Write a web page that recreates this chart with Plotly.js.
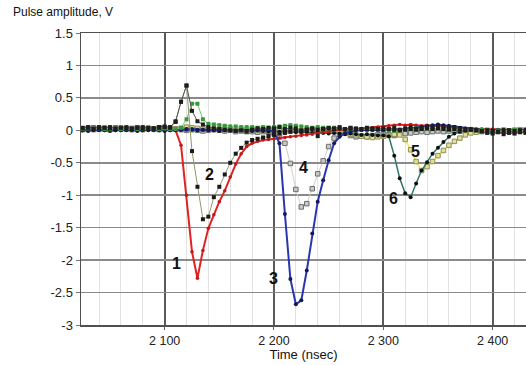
<!DOCTYPE html>
<html>
<head>
<meta charset="utf-8">
<script src="https://cdn.plot.ly/plotly-3.0.1.min.js"></script>
<style>html,body{margin:0;padding:0;background:#fff;}#chart{width:526px;height:365px;}</style>
</head>
<body>
<div id="chart"></div>
<script>
// time samples (nsec)
const time = [2025,2030,2035,2040,2045,2050,2055,2060,2065,2070,2075,2080,2085,2090,2095,2100,2105,
  2110,2115,2120,2125,2130,2135,2140,2145,2150,2155,2160,2165,2170,2175,
  2180,2185,2190,2195,2200,2205,2210,2215,2220,2225,2230,2235,2240,2245,2250,2255,2260,2265,2270,2275,2280,2285,2290,2295,
  2300,2305,2310,2315,2320,2325,2330,2335,2340,2345,2350,2355,2360,2365,2370,2375,2380,2385,2390,2395,2400,2405,2410,2415,2420,2425,2430];

// crosstalk channel (black squares)
const seriesBlack = [0.04,0.05,0.03,0.05,0.04,0.05,0.03,0.04,0.05,0.03,0.04,0.05,0.04,0.03,0.05,0.06,0.05,
  0.14,0.44,0.69,0.30,0.14,0.09,0.05,0.03,0.02,0.01,0.00,-0.01,0.00,-0.02,
  0.01,0.03,0.02,0.04,0.03,0.05,0.02,0.04,0.03,-0.02,0.01,0.03,-0.09,0.02,0.04,0.03,0.05,0.02,0.04,0.03,0.02,0.04,0.03,0.02,
  0.03,0.02,0.04,0.01,0.03,0.05,0.02,0.04,0.06,0.05,0.07,0.06,0.04,0.05,0.03,0.02,0.01,0.00,-0.02,-0.04,-0.05,-0.03,-0.06,-0.04,-0.05,-0.03,-0.04];

// crosstalk channel (green squares)
const seriesGreen = [0.02,0.03,0.02,0.03,0.02,0.02,0.03,0.02,0.03,0.02,0.02,0.03,0.02,0.03,0.02,0.03,0.02,
  0.02,0.04,0.17,0.41,0.41,0.17,0.10,0.09,0.08,0.07,0.06,0.06,0.05,0.05,
  0.05,0.04,0.05,0.04,0.05,0.06,0.07,0.08,0.07,0.06,0.05,0.04,0.05,0.04,0.03,0.04,0.03,0.02,0.03,0.02,0.02,0.01,0.02,0.01,
  0.01,0.00,-0.01,0.00,0.01,0.02,0.03,0.02,0.03,0.04,0.03,0.02,0.03,0.02,0.01,0.02,0.01,0.00,0.01,0.00,-0.01,0.00,-0.01,0.00,0.01,0.00,-0.01];

// pulse 1 (red)
const series1 = [0.01,0.00,0.01,0.02,0.01,0.00,0.01,0.02,0.01,0.01,0.00,0.01,0.02,0.01,0.01,0.02,0.01,
  0.00,-0.23,-1.00,-1.87,-2.28,-1.85,-1.51,-1.30,-1.10,-0.93,-0.72,-0.52,-0.36,-0.25,
  -0.20,-0.17,-0.15,-0.14,-0.13,-0.12,-0.11,-0.10,-0.09,-0.08,-0.07,-0.06,-0.05,-0.03,-0.02,0.00,0.01,0.02,0.02,0.03,0.03,0.04,0.04,0.05,
  0.06,0.07,0.08,0.09,0.08,0.09,0.08,0.07,0.08,0.07,0.06,0.05,0.05,0.04,0.04,0.03,0.03,0.02,0.02,0.01,0.02,0.01,0.00,0.01,0.00,0.01,0.00];

// pulse 2 (black dots, olive line)
const series2 = [0.03,0.04,0.02,0.03,0.04,0.03,0.02,0.04,0.03,0.02,0.04,0.03,0.02,0.03,0.04,0.05,0.04,
  0.13,0.44,0.69,-0.32,-0.87,-1.37,-1.33,-1.03,-0.87,-0.68,-0.50,-0.36,-0.27,-0.19,
  -0.15,-0.13,-0.11,-0.09,-0.07,-0.05,-0.04,-0.02,-0.01,0.00,0.01,0.02,0.01,0.02,0.03,0.02,0.03,0.02,0.03,0.02,0.01,0.02,0.01,0.02,
  0.01,0.02,0.01,0.00,0.01,0.02,0.01,0.02,0.03,0.02,0.03,0.02,0.01,0.02,0.01,0.00,0.01,0.00,-0.01,0.00,-0.01,-0.02,-0.01,0.00,-0.01,0.00,-0.01];

// pulse 3 (blue)
const series3 = [0.00,0.00,0.01,0.00,0.00,0.01,0.00,0.00,0.00,0.01,0.00,0.00,0.00,0.01,0.00,0.00,0.00,
  0.00,0.01,0.01,0.02,0.01,0.01,0.00,0.00,0.01,0.00,0.00,0.00,0.01,0.00,
  0.00,0.00,0.01,0.00,-0.02,-0.20,-1.29,-2.29,-2.68,-2.62,-2.16,-1.59,-1.10,-0.77,-0.46,-0.20,-0.10,-0.04,-0.02,0.00,0.01,0.00,0.01,0.00,
  0.00,0.01,0.00,0.01,0.02,0.03,0.04,0.05,0.06,0.08,0.09,0.08,0.07,0.05,0.04,0.03,0.02,0.01,0.01,0.00,0.00,0.01,0.00,0.00,0.01,0.00,0.00];

// pulse 4 (grey squares)
const series4 = [0.02,0.03,0.04,0.02,0.03,0.02,0.04,0.03,0.02,0.03,0.04,0.02,0.03,0.02,0.04,0.03,0.02,
  0.02,0.01,0.00,0.01,0.00,-0.01,0.00,0.01,0.00,-0.01,0.00,-0.02,-0.01,-0.02,
  -0.02,-0.03,-0.02,-0.03,-0.04,-0.10,-0.20,-0.51,-0.91,-1.18,-1.13,-0.90,-0.67,-0.47,-0.25,-0.12,-0.06,-0.04,-0.08,-0.10,-0.09,-0.10,-0.08,-0.07,
  -0.06,-0.07,-0.08,-0.06,-0.05,-0.04,-0.03,-0.02,-0.03,-0.02,-0.01,-0.02,-0.01,0.00,-0.01,0.00,0.01,0.00,-0.01,0.00,-0.02,-0.01,0.00,-0.01,-0.02,-0.01,0.00];

// pulse 5 (yellow line, olive squares)
const series5 = [0.01,0.02,0.01,0.03,0.02,0.01,0.02,0.03,0.02,0.01,0.02,0.01,0.03,0.02,0.01,0.02,0.03,
  0.02,0.03,0.05,0.04,0.03,0.02,0.01,0.02,0.01,0.02,0.01,0.00,0.01,0.00,
  0.01,0.00,0.01,0.00,-0.01,0.00,-0.02,-0.01,0.00,-0.01,0.00,0.01,0.00,-0.01,0.00,-0.02,-0.03,-0.04,-0.06,-0.07,-0.09,-0.10,-0.11,-0.10,
  -0.09,-0.08,-0.06,-0.07,-0.14,-0.30,-0.48,-0.62,-0.56,-0.48,-0.39,-0.31,-0.23,-0.17,-0.12,-0.07,-0.04,-0.03,-0.02,-0.01,-0.02,-0.01,0.00,-0.01,0.00,0.01,0.00];

// pulse 6 (teal line, black dots)
const series6 = [0.00,-0.01,0.00,0.01,0.00,-0.01,0.00,0.00,0.01,0.00,-0.01,0.00,0.01,0.00,0.00,-0.01,0.00,
  0.00,0.01,0.02,0.01,0.00,0.01,0.00,0.00,-0.01,0.00,0.00,-0.01,0.00,0.00,
  -0.01,0.00,-0.01,-0.02,-0.01,-0.02,-0.01,-0.02,-0.03,-0.02,-0.03,-0.04,-0.03,-0.04,-0.05,-0.04,-0.05,-0.06,-0.05,-0.06,-0.07,-0.06,-0.07,-0.08,
  -0.08,-0.09,-0.39,-0.74,-0.97,-1.03,-0.82,-0.62,-0.49,-0.36,-0.27,-0.18,-0.10,-0.05,-0.02,0.00,0.01,0.00,0.01,0.00,-0.01,0.00,0.01,0.00,-0.01,0.00,0.01];

// curve labels
const labelText = ['1','2','3','4','5','6'];
const labelX = [2110.5,2141,2200,2227,2329.5,2309.5];
const labelY = [-2.05,-0.68,-2.28,-0.57,-0.33,-1.05];

// tick labels
const xTickVals = [2100,2200,2300,2400];
const xTickText = ['2 100','2 200','2 300','2 400'];
const yTickVals = [1.5,1,0.5,0,-0.5,-1,-1.5,-2,-2.5,-3];
const yTickText = ['1.5','1','0.5','0','-0.5','-1','-1.5','-2','-2.5','-3'];

function tr(y, lineColor, lineWidth, mColor, mSize, mSymbol, mLine) {
  return {x: time, y: y, type: 'scatter', mode: 'lines+markers',
    line: {color: lineColor, width: lineWidth},
    marker: {color: mColor, size: mSize, symbol: mSymbol, line: mLine || {width: 0}},
    hoverinfo: 'skip', showlegend: false};
}

const data = [
  tr(series4, '#cfcfcf', 1, '#c8c8c8', 4.5, 'square', {color: '#6e6e6e', width: 1}),
  tr(series5, '#ecec50', 1.5, '#e0e090', 4.5, 'square', {color: '#8e8e5e', width: 1}),
  tr(series6, '#2f7466', 1.5, '#111111', 4, 'circle'),
  tr(series1, '#e02222', 2, '#c01818', 3.5, 'circle'),
  tr(series3, '#2a36b0', 2, '#141a5a', 4, 'circle'),
  tr(seriesGreen, '#7cc47c', 1, '#3a983a', 4, 'square'),
  tr(series2, '#8f9a6c', 1, '#1a1a1a', 4, 'square'),
  tr(seriesBlack, '#555555', 1, '#1e1e1e', 4, 'square')
];

const annotations = labelText.map((t, i) => ({
  x: labelX[i], y: labelY[i], xref: 'x', yref: 'y', text: '<b>' + t + '</b>', showarrow: false,
  font: {family: 'Arial, Liberation Sans, sans-serif', size: 16, color: '#111'}, xanchor: 'center', yanchor: 'middle'
}));

const layout = {
  width: 526, height: 365,
  margin: {l: 81, r: 0, t: 33, b: 40, pad: 0},
  paper_bgcolor: '#fff', plot_bgcolor: '#fff',
  font: {family: 'Arial, Liberation Sans, sans-serif', color: '#222', size: 12},
  title: {text: 'Pulse amplitude, V', x: 13/526, xref: 'container', xanchor: 'left', y: 1 - 12/365, yref: 'container', yanchor: 'middle',
    font: {size: 12, color: '#111'}},
  xaxis: {
    range: [2023.5, 2430.5], tickmode: 'array', tickvals: xTickVals, ticktext: xTickText,
    showgrid: true, gridcolor: '#5a5a5a', gridwidth: 2,
    minor: {tick0: 2000, dtick: 20, showgrid: true, gridcolor: '#e2e2e2', gridwidth: 1, ticks: ''},
    showline: true, linecolor: '#505050', linewidth: 1.5, mirror: true,
    ticks: 'outside', ticklen: 3, tickcolor: '#666', zeroline: false,
    tickfont: {size: 12.5, color: '#222'},
    title: {text: 'Time (nsec)', font: {size: 13, color: '#111'}, standoff: 1}
  },
  yaxis: {
    range: [-3, 1.5], tickmode: 'array', tickvals: yTickVals, ticktext: yTickText,
    showgrid: true, gridcolor: '#8a8a8a', gridwidth: 1.6,
    showline: true, linecolor: '#505050', linewidth: 1.5,
    ticks: 'outside', ticklen: 4, tickcolor: '#777', zeroline: false,
    tickfont: {size: 13, color: '#222'}
  },
  annotations: annotations
};

Plotly.newPlot('chart', data, layout, {staticPlot: true, displayModeBar: false});
</script>
</body>
</html>
